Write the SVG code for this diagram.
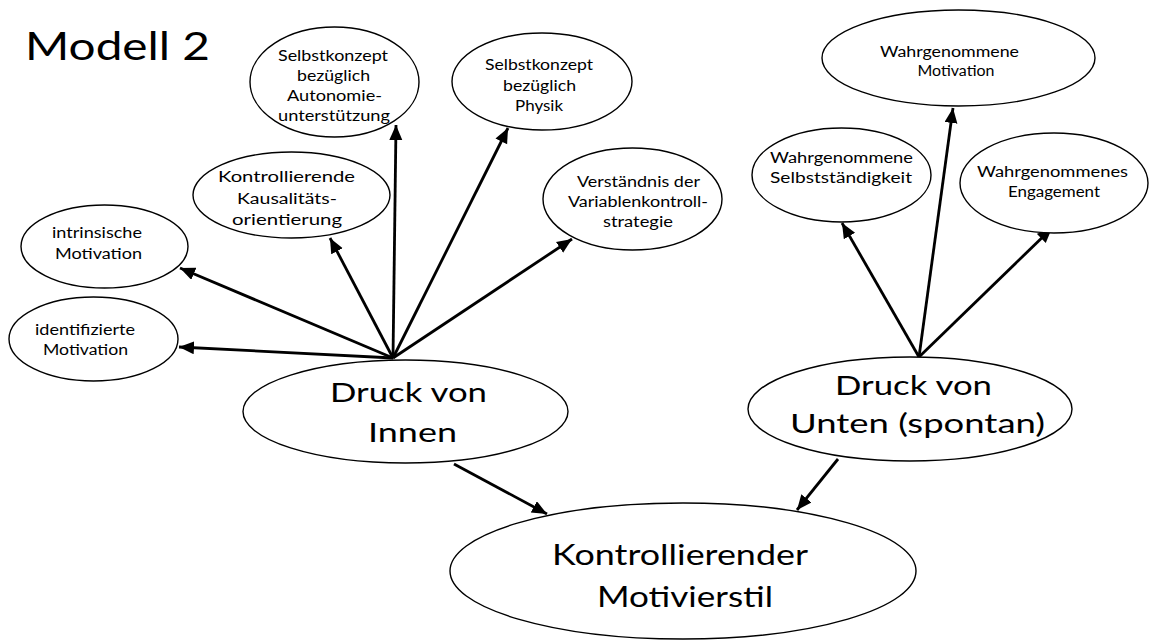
<svg xmlns="http://www.w3.org/2000/svg" width="1150" height="642" viewBox="0 0 1150 642">
<defs>
<style>
.node ellipse{fill:#fff;stroke:#000;stroke-width:1.4}
text{font-family:Lato,"Liberation Sans",sans-serif;fill:#000;text-anchor:middle}
.s{font-size:14.5px}
.m{font-size:15.5px}
.b{font-size:26.5px}
.xl{font-size:28px}
.edge{stroke:#000;stroke-width:2.8;fill:none;marker-end:url(#ah)}
</style>
<marker id="ah" markerUnits="userSpaceOnUse" markerWidth="16" markerHeight="14" refX="15" refY="6.5" orient="auto">
<path d="M0,0 L15,6.5 L0,13 z" fill="#000"/>
</marker>
</defs>
<rect width="1150" height="642" fill="#fff"/>
<text x="117.5" y="60" style="font-size:39px" textLength="185" lengthAdjust="spacingAndGlyphs">Modell 2</text>

<g id="connectors">
<line class="edge" x1="393" y1="358" x2="179" y2="347"/>
<line class="edge" x1="393" y1="358" x2="180" y2="268"/>
<line class="edge" x1="393" y1="358" x2="330" y2="238"/>
<line class="edge" x1="393" y1="358" x2="396" y2="125"/>
<line class="edge" x1="393" y1="358" x2="508" y2="128"/>
<line class="edge" x1="393" y1="358" x2="572" y2="239"/>
<line class="edge" x1="919" y1="357" x2="842" y2="223"/>
<line class="edge" x1="919" y1="357" x2="953" y2="108"/>
<line class="edge" x1="919" y1="357" x2="1052" y2="228"/>
<line class="edge" x1="454" y1="464" x2="547" y2="514"/>
<line class="edge" x1="838" y1="459" x2="797" y2="510"/>
</g>

<g id="n_autonomie" class="node">
<ellipse cx="334.5" cy="82" rx="84.5" ry="55"/>
<text class="s" x="333" y="60.5" textLength="110" lengthAdjust="spacingAndGlyphs">Selbstkonzept</text>
<text class="s" x="333.5" y="80.5" textLength="73" lengthAdjust="spacingAndGlyphs">bezüglich</text>
<text class="s" x="334.5" y="101" textLength="95" lengthAdjust="spacingAndGlyphs">Autonomie-</text>
<text class="s" x="334" y="121" textLength="112" lengthAdjust="spacingAndGlyphs">unterstützung</text>
</g>

<g id="n_kausal" class="node">
<ellipse cx="291.5" cy="195" rx="98.5" ry="43"/>
<text class="m" x="286.5" y="182" textLength="137" lengthAdjust="spacingAndGlyphs">Kontrollierende</text>
<text class="m" x="287" y="204" textLength="100" lengthAdjust="spacingAndGlyphs">Kausalitäts-</text>
<text class="m" x="287" y="225" textLength="110" lengthAdjust="spacingAndGlyphs">orientierung</text>
</g>

<g id="n_intrinsisch" class="node">
<ellipse cx="104.5" cy="246.5" rx="83.5" ry="41.5"/>
<text class="s" x="97" y="238" textLength="90" lengthAdjust="spacingAndGlyphs">intrinsische</text>
<text class="s" x="98.5" y="259" textLength="87" lengthAdjust="spacingAndGlyphs">Motivation</text>
</g>

<g id="n_identifiziert" class="node">
<ellipse cx="93.5" cy="339" rx="84.5" ry="42"/>
<text class="s" x="85" y="335" textLength="100" lengthAdjust="spacingAndGlyphs">identifizierte</text>
<text class="s" x="85.5" y="355" textLength="85" lengthAdjust="spacingAndGlyphs">Motivation</text>
</g>

<g id="n_physik" class="node">
<ellipse cx="542" cy="81.5" rx="90" ry="48.5"/>
<text class="s" x="539" y="70" textLength="108" lengthAdjust="spacingAndGlyphs">Selbstkonzept</text>
<text class="s" x="539.5" y="90.5" textLength="73" lengthAdjust="spacingAndGlyphs">bezüglich</text>
<text class="s" x="539" y="110.5" textLength="48" lengthAdjust="spacingAndGlyphs">Physik</text>
</g>

<g id="n_verstaendnis" class="node">
<ellipse cx="632.5" cy="199" rx="89.5" ry="51"/>
<text class="s" x="638.5" y="187" textLength="123" lengthAdjust="spacingAndGlyphs">Verständnis der</text>
<text class="s" x="638" y="206.5" textLength="140" lengthAdjust="spacingAndGlyphs">Variablenkontroll-</text>
<text class="s" x="638" y="226.5" textLength="70" lengthAdjust="spacingAndGlyphs">strategie</text>
</g>

<g id="n_wmotivation" class="node">
<ellipse cx="958.5" cy="58" rx="136.5" ry="48"/>
<text class="s" x="949.5" y="56.5" textLength="139" lengthAdjust="spacingAndGlyphs">Wahrgenommene</text>
<text class="s" x="956" y="75.5" textLength="77" lengthAdjust="spacingAndGlyphs">Motivation</text>
</g>

<g id="n_wselbst" class="node">
<ellipse cx="841.5" cy="175" rx="89.5" ry="47"/>
<text class="s" x="841.5" y="163" textLength="143" lengthAdjust="spacingAndGlyphs">Wahrgenommene</text>
<text class="s" x="841" y="182.5" textLength="142" lengthAdjust="spacingAndGlyphs">Selbstständigkeit</text>
</g>

<g id="n_wengagement" class="node">
<ellipse cx="1054" cy="183" rx="94" ry="50"/>
<text class="s" x="1052.5" y="177" textLength="151" lengthAdjust="spacingAndGlyphs">Wahrgenommenes</text>
<text class="s" x="1054" y="197" textLength="92" lengthAdjust="spacingAndGlyphs">Engagement</text>
</g>

<g id="n_innen" class="node">
<ellipse cx="405.5" cy="411.5" rx="162.5" ry="51.5"/>
<text class="b" x="408.5" y="402" textLength="157" lengthAdjust="spacingAndGlyphs">Druck von</text>
<text class="b" x="412.5" y="442" textLength="89" lengthAdjust="spacingAndGlyphs">Innen</text>
</g>

<g id="n_unten" class="node">
<ellipse cx="910" cy="409" rx="162" ry="52"/>
<text class="b" x="913.5" y="395" textLength="157" lengthAdjust="spacingAndGlyphs">Druck von</text>
<text class="b" x="917.5" y="433" textLength="255" lengthAdjust="spacingAndGlyphs">Unten (spontan)</text>
</g>

<g id="n_kontrollierend" class="node">
<ellipse cx="683" cy="571" rx="233" ry="68"/>
<text class="xl" x="680" y="565" textLength="256" lengthAdjust="spacingAndGlyphs">Kontrollierender</text>
<text class="xl" x="685" y="607" textLength="176" lengthAdjust="spacingAndGlyphs">Motivierstil</text>
</g>
</svg>
